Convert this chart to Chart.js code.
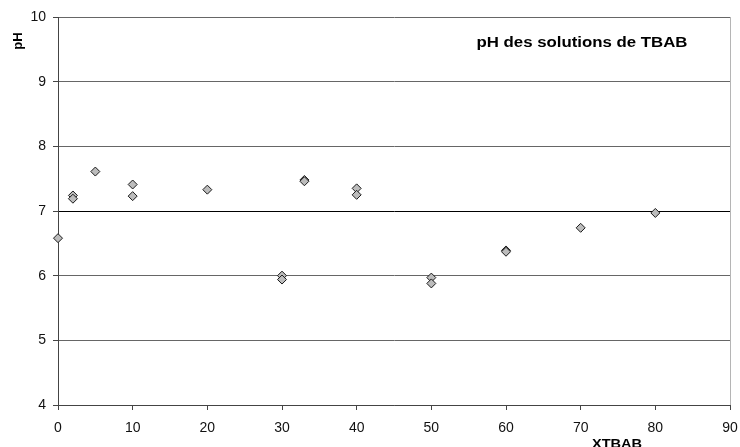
<!DOCTYPE html>
<html>
<head>
<meta charset="utf-8">
<script src="https://cdn.jsdelivr.net/npm/chart.js@4/dist/chart.umd.min.js"></script>
<style>
  html, body { margin: 0; padding: 0; background: #fff; }
  #phChart { display: block; }
</style>
</head>
<body>
<canvas id="phChart" width="740" height="447"></canvas>
<script>
const xtbabValues = [0, 2, 2, 5, 10, 10, 20, 30, 30, 33, 33, 40, 40, 50, 50, 60, 60, 70, 80];
const phValues = [6.58, 7.24, 7.19, 7.61, 7.41, 7.23, 7.33, 6.00, 5.94, 7.48, 7.46, 7.35, 7.25, 5.97, 5.88, 6.39, 6.37, 6.74, 6.97];

const xTicks = [0, 10, 20, 30, 40, 50, 60, 70, 80, 90];
const yTicks = [4, 5, 6, 7, 8, 9, 10];

const chartTitle = 'pH des solutions de TBAB';
const xAxisLabel = 'XTBAB';
const yAxisLabel = 'pH';

const points = xtbabValues.map((x, i) => ({ x: x, y: phValues[i] }));

// axis titles and the chart title sit at odd spots, so draw them by hand
const labelsPlugin = {
    id: 'labelsPlugin',
    afterDraw(chart) {
        const ctx = chart.ctx;
        const area = chart.chartArea;
        ctx.save();
        ctx.fillStyle = '#000';
        ctx.textAlign = 'center';
        ctx.textBaseline = 'middle';

        // the original text is a bit stretched sideways
        ctx.save();
        ctx.font = 'bold 14px "Liberation Sans", Arial, sans-serif';
        ctx.translate(582, area.top + 26);
        ctx.scale(1.2, 1);
        ctx.fillText(chartTitle, 0, 0);
        ctx.restore();

        ctx.save();
        ctx.font = 'bold 13px "Liberation Sans", Arial, sans-serif';
        ctx.translate(617, area.bottom + 39);
        ctx.scale(1.12, 1);
        ctx.fillText(xAxisLabel, 0, 0);
        ctx.restore();

        ctx.font = 'bold 13px "Liberation Sans", Arial, sans-serif';
        ctx.translate(18, area.top + 24);
        ctx.rotate(-Math.PI / 2);
        ctx.fillText(yAxisLabel, 0, 0);
        ctx.restore();
    }
};

new Chart(document.getElementById('phChart').getContext('2d'), {
    type: 'scatter',
    data: {
        datasets: [{
            label: yAxisLabel,
            data: points,
            clip: false,
            pointStyle: 'rectRot',
            pointRadius: 4.5,
            pointHoverRadius: 4.5,
            backgroundColor: '#bcbcbc',
            borderColor: '#1a1a1a',
            borderWidth: 1
        }]
    },
    options: {
        responsive: false,
        animation: false,
        layout: { padding: { top: 17, right: 10, left: 0, bottom: 0 } },
        plugins: {
            legend: { display: false },
            tooltip: { enabled: false }
        },
        scales: {
            x: {
                type: 'linear',
                min: xTicks[0],
                max: xTicks[xTicks.length - 1],
                afterBuildTicks: scale => { scale.ticks = xTicks.map(v => ({ value: v })); },
                afterFit: scale => {
                    scale.height = 42;
                    scale.paddingLeft = 0;
                    scale.paddingRight = 0;
                },
                grid: {
                    drawOnChartArea: true,
                    color: c => (c.tick && c.tick.value === 90 ? '#b5b5b5' : 'rgba(0,0,0,0)'),
                    tickColor: '#444',
                    tickLength: 5
                },
                border: { color: '#444', width: 1 },
                ticks: {
                    color: '#111',
                    padding: 10,
                    font: { family: '"Liberation Sans", Arial, sans-serif', size: 14 }
                }
            },
            y: {
                type: 'linear',
                min: yTicks[0],
                max: yTicks[yTicks.length - 1],
                afterBuildTicks: scale => { scale.ticks = yTicks.map(v => ({ value: v })); },
                afterFit: scale => {
                    scale.width = 58;
                    scale.paddingTop = 0;
                    scale.paddingBottom = 0;
                },
                grid: {
                    color: c => (c.tick && c.tick.value === 7 ? '#000' : '#666'),
                    tickColor: '#444',
                    tickLength: 5
                },
                border: { color: '#444', width: 1 },
                ticks: {
                    color: '#111',
                    padding: 7,
                    font: { family: '"Liberation Sans", Arial, sans-serif', size: 14 }
                }
            }
        }
    },
    plugins: [labelsPlugin]
});
</script>
</body>
</html>
